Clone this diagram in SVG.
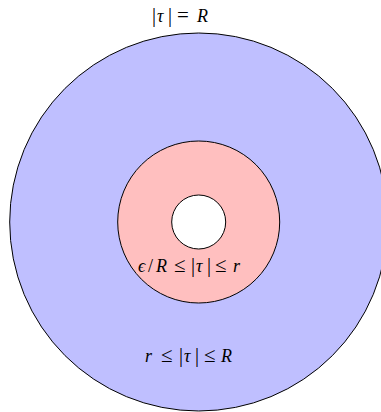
<svg xmlns="http://www.w3.org/2000/svg" width="381" height="412" viewBox="0 0 381 412">
<style>
circle{stroke:#000;stroke-width:1}
text{font-family:"Liberation Serif","DejaVu Serif",serif;font-size:18px;fill:#000}
.i{font-style:italic}
.o{font-size:21px}
.b{font-size:20px}
</style>
<rect width="381" height="412" fill="#fff"/>
<g id="outer"><circle cx="198.7" cy="222" r="189" fill="#BFBFFF"/></g>
<g id="middle"><circle cx="198.7" cy="222" r="81" fill="#FFBFBF"/></g>
<g id="inner"><circle cx="198.7" cy="222" r="27" fill="#fff"/></g>
<g id="labels">
<text y="22"><tspan x="152" class="b">|</tspan><tspan x="157" class="i">τ</tspan><tspan x="168" class="b">|</tspan><tspan x="177" class="o">=</tspan><tspan x="197" class="i">R</tspan></text>
<text y="272"><tspan x="138" class="i">ϵ</tspan><tspan x="148">/</tspan><tspan x="156" class="i">R</tspan><tspan x="174" class="o">≤</tspan><tspan x="191" class="b">|</tspan><tspan x="196" class="i">τ</tspan><tspan x="207" class="b">|</tspan><tspan x="215" class="o">≤</tspan><tspan x="233" class="i">r</tspan></text>
<text y="362"><tspan x="145" class="i">r</tspan><tspan x="161" class="o">≤</tspan><tspan x="179" class="b">|</tspan><tspan x="184" class="i">τ</tspan><tspan x="195" class="b">|</tspan><tspan x="204" class="o">≤</tspan><tspan x="221" class="i">R</tspan></text>
</g>
</svg>
